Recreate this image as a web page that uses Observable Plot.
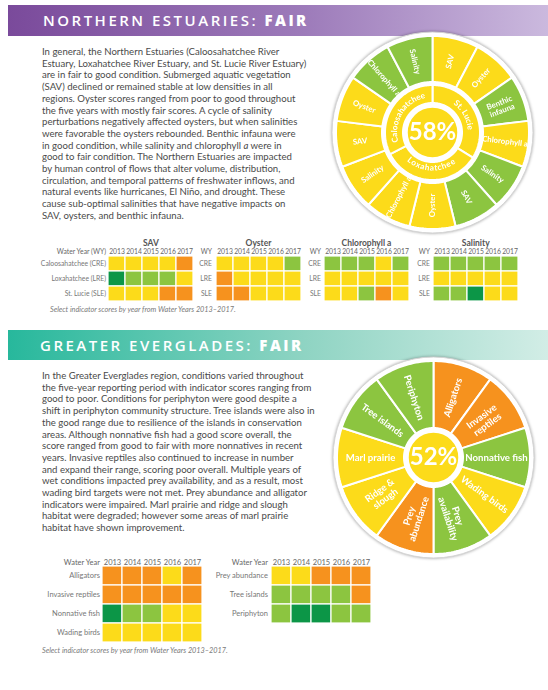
<!DOCTYPE html>
<html><head><meta charset="utf-8">
<script src="https://cdn.jsdelivr.net/npm/d3@7"></script>
<script src="https://cdn.jsdelivr.net/npm/@observablehq/plot@0.6"></script>
<style>
body{margin:0;background:#fff;}
#page{position:relative;width:548px;height:690px;overflow:hidden;font-family:Lato,sans-serif;}
.hdr{position:absolute;left:8px;width:540px;color:#fff;font-family:"Open Sans",sans-serif;font-weight:600;font-size:15px;letter-spacing:2.5px;white-space:nowrap;box-sizing:border-box;}
.hdr b{font-weight:800;}
.para{position:absolute;left:42px;font-size:9.6px;line-height:11.7px;color:#4a4a4a;white-space:nowrap;}
.cap{position:absolute;font-style:italic;font-size:7.3px;color:#7a7a7a;white-space:nowrap;}
</style></head><body><div id="page">
<div class="hdr" style="top:5px;height:31px;line-height:31px;padding-left:35px;background:linear-gradient(to right,#7a4a9b,#9d7bba 55%,#cbb9de);">NORTHERN ESTUARIES: <b>FAIR</b></div>
<div class="para" style="top:46px;">
<div>In general, the Northern Estuaries (Caloosahatchee River</div>
<div>Estuary, Loxahatchee River Estuary, and St. Lucie River Estuary)</div>
<div>are in fair to good condition. Submerged aquatic vegetation</div>
<div>(SAV) declined or remained stable at low densities in all</div>
<div>regions. Oyster scores ranged from poor to good throughout</div>
<div>the five years with mostly fair scores. A cycle of salinity</div>
<div>perturbations negatively affected oysters, but when salinities</div>
<div>were favorable the oysters rebounded. Benthic infauna were</div>
<div>in good condition, while salinity and chlorophyll <i>a</i> were in</div>
<div>good to fair condition. The Northern Estuaries are impacted</div>
<div>by human control of flows that alter volume, distribution,</div>
<div>circulation, and temporal patterns of freshwater inflows, and</div>
<div>natural events like hurricanes, El Niño, and drought. These</div>
<div>cause sub-optimal salinities that have negative impacts on</div>
<div>SAV, oysters, and benthic infauna.</div>
</div>
<div class="cap" style="left:50px;top:305px;">Select indicator scores by year from Water Years 2013–2017.</div>
<div class="hdr" style="top:330px;height:30px;line-height:30px;padding-left:32px;background:linear-gradient(to right,#27b89c,#8fd4c3 55%,#d2ede6);">GREATER EVERGLADES: <b>FAIR</b></div>
<div class="para" style="top:370px;">
<div>In the Greater Everglades region, conditions varied throughout</div>
<div>the five-year reporting period with indicator scores ranging from</div>
<div>good to poor. Conditions for periphyton were good despite a</div>
<div>shift in periphyton community structure. Tree islands were also in</div>
<div>the good range due to resilience of the islands in conservation</div>
<div>areas. Although nonnative fish had a good score overall, the</div>
<div>score ranged from good to fair with more nonnatives in recent</div>
<div>years. Invasive reptiles also continued to increase in number</div>
<div>and expand their range, scoring poor overall. Multiple years of</div>
<div>wet conditions impacted prey availability, and as a result, most</div>
<div>wading bird targets were not met. Prey abundance and alligator</div>
<div>indicators were impaired. Marl prairie and ridge and slough</div>
<div>habitat were degraded; however some areas of marl prairie</div>
<div>habitat have shown improvement.</div>
</div>
<div class="cap" style="left:42px;top:646px;">Select indicator scores by year from Water Years 2013–2017.</div>
</div>
<script>
// ---------- DATA ----------
const years = ["2013", "2014", "2015", "2016", "2017"];
const scoreLevels = ["very good", "good", "fair", "poor"];
const scoreColors = ["#0c9647", "#8cc540", "#fcdb1a", "#f6921e"];

// Northern Estuaries wheel
const neRegions = ["St. Lucie", "Loxahatchee", "Caloosahatchee"];
const neRegionSpans = [[0, 122], [122, 243], [243, 360]];
const neIndicators = ["SAV", "Oyster", "Benthic\ninfauna", "Chlorophyll a", "Salinity",
  "SAV", "Oyster", "Chlorophyll a", "Salinity",
  "SAV", "Oyster", "Chlorophyll a", "Salinity"];
const neIndicatorScores = ["fair", "fair", "good", "fair", "good",
  "good", "fair", "fair", "fair",
  "fair", "fair", "good", "good"];
const nePercent = "58%";

// Northern Estuaries tables
const neRowNames = ["Caloosahatchee (CRE)", "Loxahatchee (LRE)", "St. Lucie (SLE)"];
const neRowCodes = ["CRE", "LRE", "SLE"];
const savScores = [["fair","fair","fair","fair","poor"],["very good","good","good","good","fair"],["fair","fair","fair","poor","poor"]];
const oysterScores = [["fair","fair","fair","fair","good"],["poor","fair","fair","fair","fair"],["poor","poor","fair","fair","fair"]];
const chlorophyllScores = [["good","good","good","fair","good"],["fair","fair","fair","fair","fair"],["fair","fair","good","poor","fair"]];
const salinityScores = [["good","good","good","good","good"],["fair","fair","fair","fair","fair"],["good","good","very good","fair","fair"]];

// Greater Everglades wheel
const geIndicators = ["Alligators", "Invasive\nreptiles", "Nonnative fish", "Wading birds", "Prey\navailability",
  "Prey\nabundance", "Ridge &\nslough", "Marl prairie", "Tree islands", "Periphyton"];
const geIndicatorScores = ["poor", "poor", "good", "fair", "good", "poor", "fair", "fair", "good", "good"];
const gePercent = "52%";

// Greater Everglades tables
const geRowsA = ["Alligators", "Invasive reptiles", "Nonnative fish", "Wading birds"];
const geScoresA = [["poor","poor","poor","fair","poor"],["poor","poor","poor","poor","poor"],["very good","good","good","fair","fair"],["fair","fair","fair","fair","fair"]];
const geRowsB = ["Prey abundance", "Tree islands", "Periphyton"];
const geScoresB = [["fair","fair","poor","poor","poor"],["good","good","good","good","poor"],["good","very good","very good","good","good"]];

// ---------- RENDER ----------
const page = document.getElementById("page");
const colorScale = {type: "ordinal", domain: scoreLevels, range: scoreColors};
function place(el, left, top) {
  el.style.position = "absolute"; el.style.left = left + "px"; el.style.top = top + "px";
  page.append(el);
}

function heatmap({rows, labels, scores, title, yearLabel, left, top, marginLeft, marginTop, cellW, cellH, fontSize, titleSize}) {
  const data = rows.flatMap((r, i) => years.map((y, j) => ({row: r, year: y, score: scores[i][j]})));
  const marks = [
    Plot.cell(data, {x: "year", y: "row", fill: "score", stroke: "white", strokeWidth: 1.2}),
    Plot.axisX({anchor: "top", tickSize: 0, tickPadding: 2, fontSize, label: null, fill: "#666"}),
    Plot.axisY({anchor: "left", tickSize: 0, tickPadding: 2.5, fontSize, label: null, fill: "#777",
      tickFormat: (d) => labels[rows.indexOf(d)]}),
    Plot.text([yearLabel], {frameAnchor: "top-left", lineAnchor: "bottom", dx: -2.5, dy: -2, textAnchor: "end", fontSize, fill: "#666"})
  ];
  if (title) marks.push(Plot.text([title], {frameAnchor: "top", lineAnchor: "bottom", dy: -10, fontSize: titleSize, fontWeight: "bold", fill: "#555"}));
  const svg = Plot.plot({
    width: marginLeft + cellW * 5 + 2, height: marginTop + cellH * rows.length + 2,
    marginLeft, marginTop, marginRight: 2, marginBottom: 2,
    x: {domain: years, padding: 0}, y: {domain: rows, padding: 0},
    color: colorScale,
    style: {fontFamily: "Lato, sans-serif", background: "transparent", overflow: "visible"},
    marks
  });
  place(svg, left, top);
}

const measureCtx = document.createElement("canvas").getContext("2d");
function arcChars(label, centerDeg, r, fontSize, outward) {
  measureCtx.font = `bold ${fontSize}px Lato`;
  const chars = [...label];
  const widths = chars.map((c) => measureCtx.measureText(c).width * 1.08);
  const total = d3.sum(widths);
  const out = [];
  let acc = 0;
  chars.forEach((c, i) => {
    const mid = acc + widths[i] / 2;
    acc += widths[i];
    const off = (mid - total / 2) / r * 180 / Math.PI;
    const th = outward ? centerDeg + off : centerDeg - off;
    const rad = th * Math.PI / 180;
    out.push({c, x: r * Math.sin(rad), y: r * Math.cos(rad), rot: outward ? th : th - 180});
  });
  return out;
}

function slicePoly(id, a0, a1, r0, r1, score) {
  const pts = [];
  const n = Math.max(8, Math.ceil((a1 - a0) / 1.5));
  for (let k = 0; k <= n; k++) { const a = (a0 + (a1 - a0) * k / n) * Math.PI / 180; pts.push({id, score, x: r1 * Math.sin(a), y: r1 * Math.cos(a)}); }
  for (let k = n; k >= 0; k--) { const a = (a0 + (a1 - a0) * k / n) * Math.PI / 180; pts.push({id, score, x: r0 * Math.sin(a), y: r0 * Math.cos(a)}); }
  return pts;
}

function wheel({indicators, scores, regions, regionSpans, pct, r0, r1, labelR, fontSize, left, top}) {
  const n = indicators.length, step = 360 / n;
  const polys = indicators.flatMap((d, i) => slicePoly("s" + i, i * step, (i + 1) * step, r0, r1, scores[i]));
  const labels = indicators.map((d, i) => {
    const th = (i + 0.5) * step, rad = th * Math.PI / 180;
    return {text: d, x: labelR * Math.sin(rad), y: labelR * Math.cos(rad), rot: th < 180 ? th - 90 : th - 270};
  });
  const marks = [
    Plot.dot([0], {x: 0, y: 0, r: 100.5, fill: "white", stroke: "#d4d4d4", strokeWidth: 1}),
    Plot.line(polys, {x: "x", y: "y", z: "id", fill: "score", stroke: "white", strokeWidth: 2, curve: "linear-closed"})
  ];
  if (regions) {
    const ring = regions.flatMap((d, i) => slicePoly("r" + i, regionSpans[i][0], regionSpans[i][1], 29.5, 47.5, "fair"));
    marks.push(Plot.line(ring, {x: "x", y: "y", z: "id", fill: "score", stroke: "white", strokeWidth: 2, curve: "linear-closed"}));
    const chars = regions.flatMap((d, i) => {
      const c = (regionSpans[i][0] + regionSpans[i][1]) / 2;
      return i === 1 ? arcChars(d, c, 35.5, 8.2, false) : arcChars(d, c, 38, 8.2, true);
    });
    marks.push(Plot.text(chars, {x: "x", y: "y", text: "c", rotate: "rot", fill: "white", fontSize: 8.2, fontWeight: "bold"}));
  }
  marks.push(
    Plot.dot([0], {x: 0, y: 0, r: 26, fill: scoreColors[2], stroke: "white", strokeWidth: 2.5}),
    Plot.text([pct], {x: 0, y: 0, text: (d) => d, fill: "white", fontSize: 24, fontWeight: "bold"}),
    Plot.text(labels, {x: "x", y: "y", text: "text", rotate: "rot", fill: "white", fontSize, fontWeight: "bold", lineHeight: 1.05})
  );
  const svg = Plot.plot({
    width: 230, height: 230, margin: 0,
    x: {domain: [-115, 115], axis: null}, y: {domain: [-115, 115], axis: null},
    color: colorScale,
    style: {fontFamily: "Lato, sans-serif", background: "transparent", overflow: "visible"},
    marks
  });
  svg.style.filter = "drop-shadow(0 0 1.5px rgba(0,0,0,0.35))";
  place(svg, left, top);
}

wheel({indicators: neIndicators, scores: neIndicatorScores, regions: neRegions, regionSpans: neRegionSpans,
  pct: nePercent, r0: 50.5, r1: 96.5, labelR: 73, fontSize: 7.8, left: 432 - 115, top: 132 - 115});
wheel({indicators: geIndicators, scores: geIndicatorScores, pct: gePercent,
  r0: 29.5, r1: 96.5, labelR: 63, fontSize: 9.6, left: 433 - 115, top: 457 - 115});

// Northern Estuaries tables
heatmap({rows: neRowNames, labels: neRowNames, scores: savScores, title: "SAV", yearLabel: "Water Year (WY)",
  left: 0, top: 234, marginLeft: 108, marginTop: 22, cellW: 17, cellH: 15.3, fontSize: 6.8, titleSize: 8.5});
heatmap({rows: neRowNames, labels: neRowCodes, scores: oysterScores, title: "Oyster", yearLabel: "WY",
  left: 190, top: 234, marginLeft: 24, marginTop: 22, cellW: 17.6, cellH: 15.3, fontSize: 6.8, titleSize: 8.5});
heatmap({rows: neRowNames, labels: neRowCodes, scores: chlorophyllScores, title: "Chlorophyll a", yearLabel: "WY",
  left: 299, top: 234, marginLeft: 24, marginTop: 22, cellW: 17.2, cellH: 15.3, fontSize: 6.8, titleSize: 8.5});
heatmap({rows: neRowNames, labels: neRowCodes, scores: salinityScores, title: "Salinity", yearLabel: "WY",
  left: 408, top: 234, marginLeft: 24, marginTop: 22, cellW: 17.3, cellH: 15.3, fontSize: 6.8, titleSize: 8.5});

// Greater Everglades tables
heatmap({rows: geRowsA, labels: geRowsA, scores: geScoresA, yearLabel: "Water Year",
  left: 0, top: 540, marginLeft: 102, marginTop: 26, cellW: 20, cellH: 19, fontSize: 7.5});
heatmap({rows: geRowsB, labels: geRowsB, scores: geScoresB, yearLabel: "Water Year",
  left: 180, top: 540, marginLeft: 90, marginTop: 26, cellW: 20.3, cellH: 19, fontSize: 7.5});
</script>
</body></html>
